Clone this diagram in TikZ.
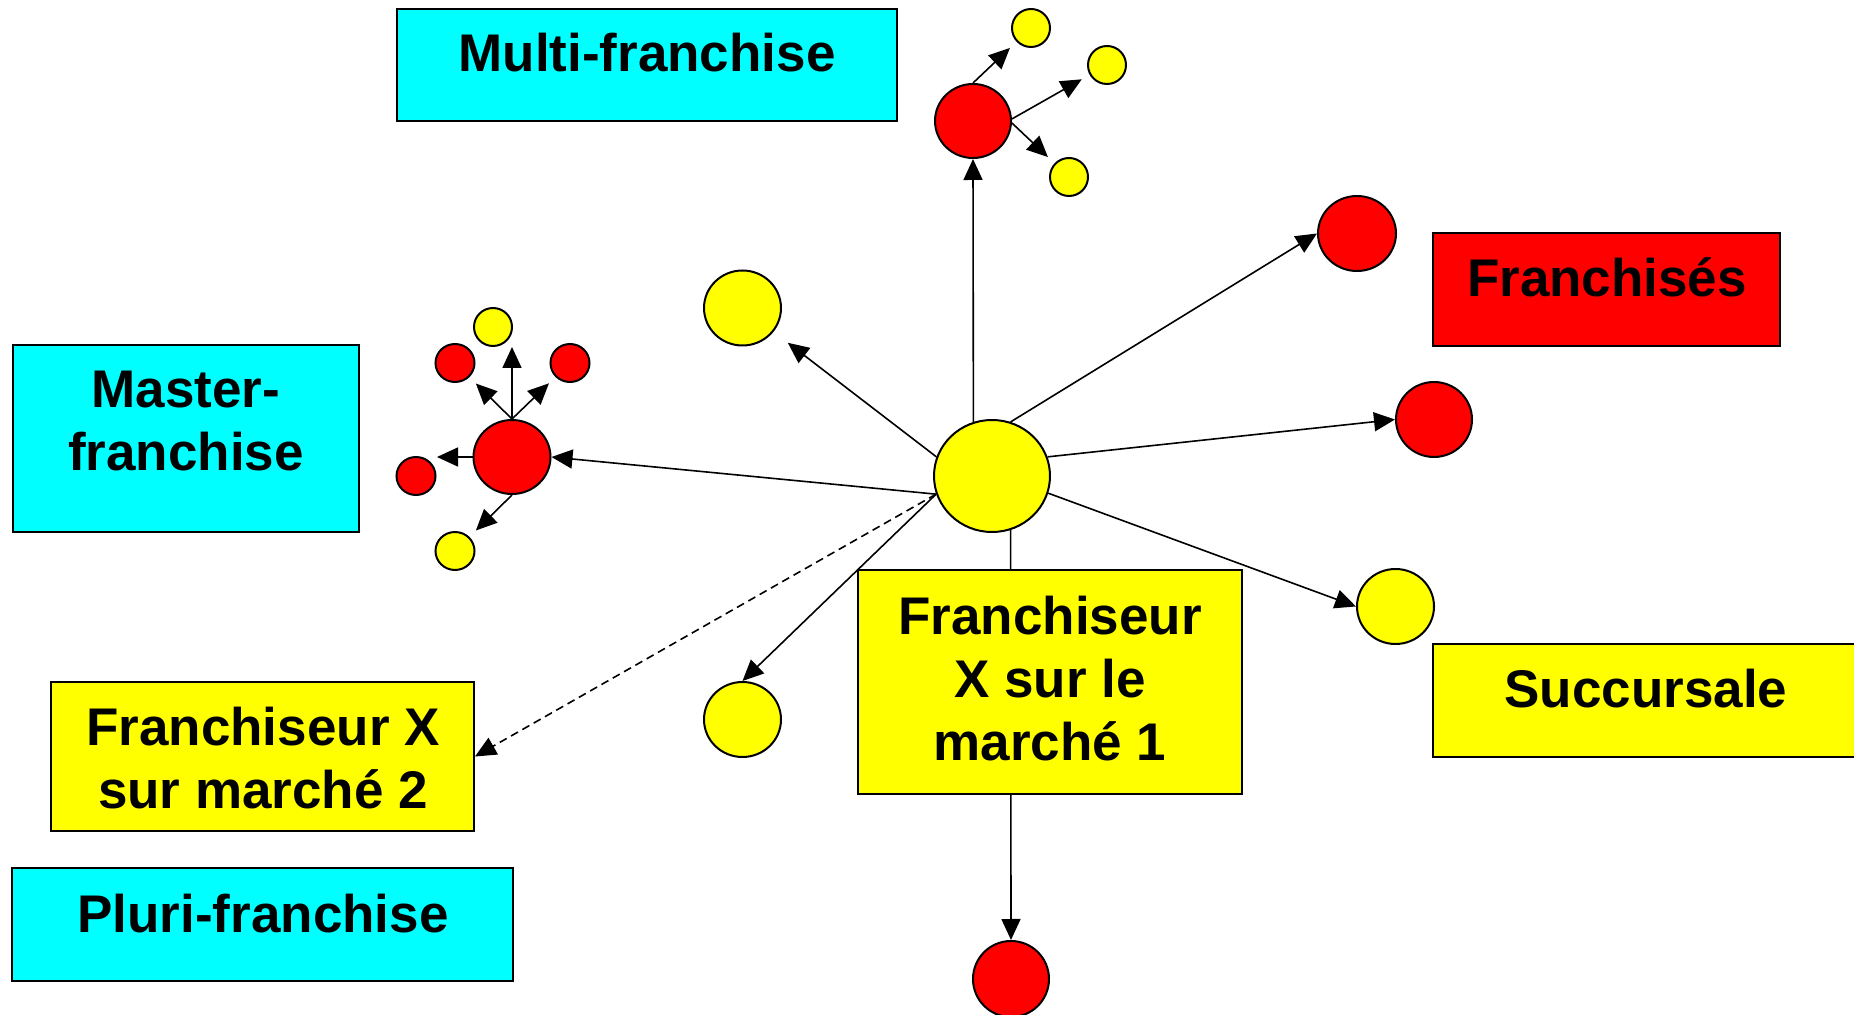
\documentclass[tikz,border=0pt]{standalone}
\usepackage{fontspec}
\setmainfont{Liberation Sans}
\usetikzlibrary{arrows.meta,shapes.geometric,backgrounds}
\definecolor{cy}{RGB}{0,255,255}
\definecolor{ye}{RGB}{255,255,0}
\definecolor{re}{RGB}{255,0,0}
\begin{document}
\begin{tikzpicture}[x=0.5pt,y=-0.5pt,
  box/.style={draw=black,line width=1pt,inner sep=0pt,rectangle},
  dot/.style={draw=black,line width=1pt,ellipse,inner sep=0pt},
  lbl/.style={font=\fontsize{26.5}{31.5}\selectfont\bfseries,align=center,inner sep=0pt},
  arr/.style={line width=0.8pt,-{Triangle[length=10.5pt,width=9.5pt]}},
  dashline/.style={dash pattern=on 4pt off 2.5pt}
]
\useasboundingbox (0,0) rectangle (1854,1015);
\clip (0,0) rectangle (1854,1015);

% boxes
\node[box,fill=cy,minimum width=250pt,minimum height=56pt] (multi) at (647,65) {};
\node[lbl,anchor=base] (tmulti) at (647,72) {Multi-franchise};

\node[box,fill=cy,minimum width=173pt,minimum height=93.5pt] (master) at (186,438.5) {};
\node[lbl] (tmaster) at (186,421) {Master-\\franchise};

\node[box,fill=ye,minimum width=211.5pt,minimum height=74.5pt] (m2) at (262.5,756.5) {};
\node[lbl] (tm2) at (263,758) {Franchiseur X\\sur marché 2};

\node[box,fill=cy,minimum width=250.5pt,minimum height=56.5pt] (pluri) at (262.5,924.5) {};
\node[lbl,anchor=base] (tpluri) at (263,932) {Pluri-franchise};

\node[box,fill=re,minimum width=173.5pt,minimum height=56.5pt] (fr) at (1606.5,289.5) {};
\node[lbl,anchor=base] (tfr) at (1607,297) {Franchisés};

\node[box,fill=ye,minimum width=218.5pt,minimum height=56.5pt] (succ) at (1651.5,700.5) {};
\node[lbl,anchor=base] (tsucc) at (1646,708) {Succursale};

\node[box,fill=ye,minimum width=192pt,minimum height=112pt] (m1) at (1050,682) {};
\node[lbl] (tm1) at (1050,678.5) {Franchiseur\\X sur le\\marché 1};

% circles
\node[dot,fill=ye,minimum width=58pt,minimum height=56pt] (c) at (992,476) {};
\node[dot,fill=re,minimum width=38pt,minimum height=37pt] (th) at (973,121) {};
\node[dot,fill=ye,minimum width=19pt,minimum height=19pt] (ty1) at (1031,28) {};
\node[dot,fill=ye,minimum width=19pt,minimum height=19pt] (ty2) at (1107,65) {};
\node[dot,fill=ye,minimum width=19pt,minimum height=19pt] (ty3) at (1069,177) {};

\node[dot,fill=re,minimum width=38.5pt,minimum height=37pt] (mh) at (512,457) {};
\node[dot,fill=ye,minimum width=19pt,minimum height=19pt] (mt) at (493,327) {};
\node[dot,fill=re,minimum width=19.5pt,minimum height=19pt] (mtl) at (455,363) {};
\node[dot,fill=re,minimum width=19.5pt,minimum height=19pt] (mtr) at (570,363) {};
\node[dot,fill=re,minimum width=19.5pt,minimum height=19pt] (ml) at (416,476) {};
\node[dot,fill=ye,minimum width=19.5pt,minimum height=19pt] (mb) at (455,551) {};

\node[dot,fill=ye,minimum width=38.5pt,minimum height=37.5pt] (ul) at (742.5,308) {};
\node[dot,fill=ye,minimum width=38.5pt,minimum height=37.5pt] (ll) at (742.5,719.5) {};
\node[dot,fill=re,minimum width=39pt,minimum height=37.5pt] (ur) at (1357,233.5) {};
\node[dot,fill=re,minimum width=38pt,minimum height=37.5pt] (rr) at (1434,419.5) {};
\node[dot,fill=ye,minimum width=38.5pt,minimum height=37.5pt] (ry) at (1395.5,606.5) {};
\node[dot,fill=re,minimum width=38pt,minimum height=38pt] (br) at (1011,979) {};

\coordinate (mup) at (512,347);
\coordinate (mleft) at (437,457);

\begin{pgfonlayer}{background}
\fill[white] (0,0) rectangle (1854,1015);
\draw[arr] (c.109.1) -- (th.south);
\draw[arr] (c.71.3) -- (ur.west);
\draw[arr] (c.19) -- (rr.west);
\draw[arr] (c.-17.5) -- (ry.west);
\draw[arr,shorten >=9pt] (c.161.6) -- (ul);
\draw[arr] (c.198.4) -- (mh.east);
\draw[arr] (c.198.4) -- (ll.north);
\draw[arr,dashline] (c.198.4) -- (m2.east);
\draw[arr] (c.-71) -- (br.north);

\draw[arr,shorten >=4.5pt] (th.north) -- (ty1);
\draw[arr,shorten >=4.5pt] (th.3) -- (ty2);
\draw[arr,shorten >=4.5pt] (th.-3) -- (ty3);

\draw[arr] (mh.north) -- (mup);
\draw[arr,shorten >=4.5pt] (mh.north) -- (mtl);
\draw[arr,shorten >=4.5pt] (mh.north) -- (mtr);
\draw[arr] (mh.west) -- (mleft);
\draw[arr,shorten >=4.5pt] (mh.south) -- (mb);
\end{pgfonlayer}
\end{tikzpicture}
\end{document}
